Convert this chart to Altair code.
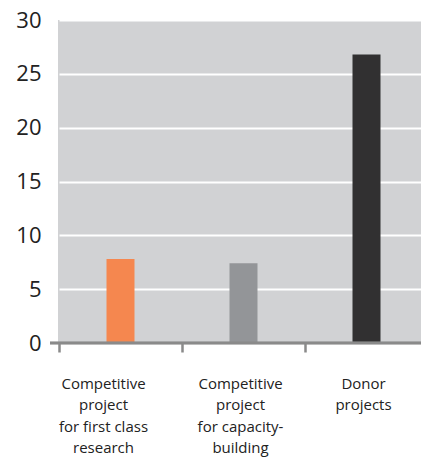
import altair as alt
import pandas as pd

categories = ["Competitive|project|for first class|research",
              "Competitive|project|for capacity-|building",
              "Donor|projects"]
values = [7.8, 7.4, 26.8]
colors = ["#f5874f", "#939598", "#313031"]

df = pd.DataFrame({"cat": categories, "val": values, "color": colors})

W, H = 363, 323

bars = alt.Chart(df).mark_bar(size=28).encode(
    x=alt.X("cat:N", sort=categories, title=None,
            scale=alt.Scale(paddingInner=0, paddingOuter=0, range=[1, 370]),
            axis=alt.Axis(labelExpr="split(datum.label, '|')", labelAngle=0,
                          labelFontSize=15, labelColor="#222222", labelFont="Open Sans",
                          labelLineHeight=21.5, labelPadding=24, labelBaseline="top",
                          labelOffset=alt.condition(f"datum.value == '{categories[0]}'",
                                                    alt.value(-17), alt.value(-3)),
                          tickSize=9, tickWidth=2.5, tickColor="#8a8a8a", bandPosition=0,
                          domain=False, grid=False)),
    y=alt.Y("val:Q", title=None,
            scale=alt.Scale(domain=[0, 30], nice=False),
            axis=alt.Axis(values=[0, 5, 10, 15, 20, 25, 30], labelFontSize=22,
                          labelFont="Open Sans", labelColor="#222222", labelPadding=17,
                          ticks=False, domain=False, grid=True, gridColor="#ffffff",
                          gridWidth=2)),
    color=alt.Color("color:N", scale=None),
)

base = alt.Chart(df).mark_rule(color="#8a8a8a", strokeWidth=2.5).encode(
    x=alt.value(-8), x2=alt.value(W), y=alt.value(H)
)

chart = alt.layer(bars, base).properties(
    width=W, height=H,
    background="#ffffff",
    autosize=alt.AutoSizeParams(type="none"),
    padding={"left": 58, "top": 20, "right": 0, "bottom": 115},
).configure_view(fill="#d1d2d4", stroke=None)

chart.save("out.html", embed_options={"renderer": "svg", "actions": False})
